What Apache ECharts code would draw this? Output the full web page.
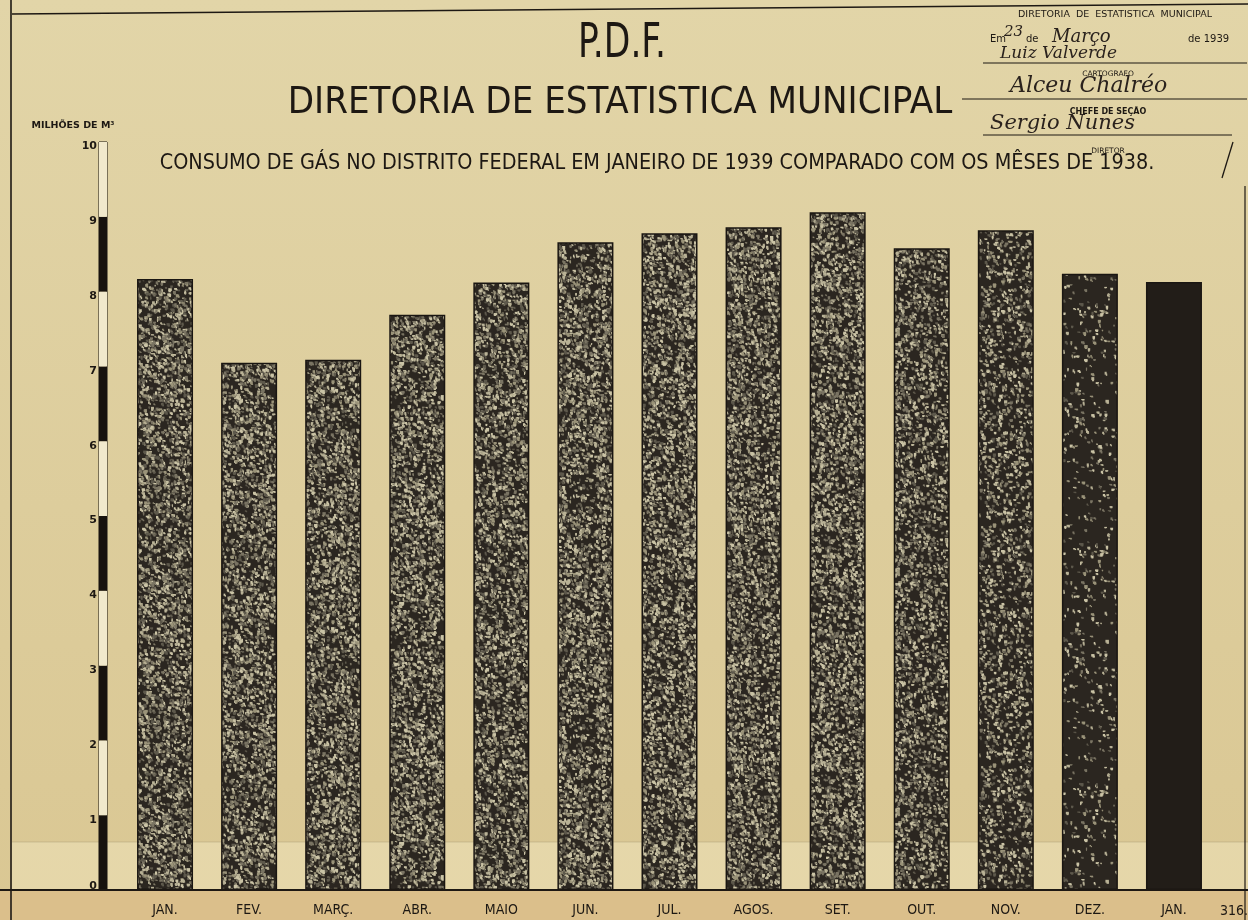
<!DOCTYPE html>
<html>
<head>
<meta charset="utf-8">
<script src="https://cdn.jsdelivr.net/npm/echarts@6/dist/echarts.min.js"></script>
<style>
  html, body { margin: 0; padding: 0; background: #ddcd9d; }
  #chart { width: 1248px; height: 920px; }
</style>
</head>
<body>
<div id="chart"></div>
<script>
// Gas consumption, Distrito Federal: January 1939 against each month of 1938 (millions of m³)
const months = ['JAN.', 'FEV.', 'MARÇ.', 'ABR.', 'MAIO', 'JUN.', 'JUL.', 'AGOS.', 'SET.', 'OUT.', 'NOV.', 'DEZ.', 'JAN.'];
const consumo = [8.17, 7.05, 7.09, 7.69, 8.12, 8.66, 8.78, 8.86, 9.06, 8.58, 8.82, 8.24, 8.13];

// Scale of the left rule (0 to 10, one step per million m³)
const scaleMin = 0;
const scaleMax = 10;
const scaleStep = 1;

// Stipple density of each bar's shading (drawing style only)
const stipple = [0.56, 0.56, 0.56, 0.56, 0.56, 0.56, 0.56, 0.56, 0.56, 0.44, 0.34, 0.1, 0.0];

const LETTER = '"DejaVu Sans Condensed", "DejaVu Sans", sans-serif';
const SMALL = '"DejaVu Sans", sans-serif';
const HAND = '"DejaVu Serif", "Liberation Serif", serif';
const INK = '#1d1813';

// Stippled fill, built once per bar on a seamless canvas tile
function stippleCanvas(density, seed) {
  const size = 240;
  const c = document.createElement('canvas');
  c.width = size; c.height = size;
  const g = c.getContext('2d');
  g.fillStyle = density > 0 ? '#2b2620' : '#221d18';
  g.fillRect(0, 0, size, size);
  let s = seed >>> 0;
  const rnd = () => (s = (Math.imul(s, 1664525) + 1013904223) >>> 0) / 4294967296;
  const tones = ['#b9b296', '#9a9379', '#7a7463', '#cbc4a6', '#5e594c'];
  const count = Math.round(size * size * density / 5.5);
  for (let i = 0; i < count; i++) {
    const x = rnd() * size, y = rnd() * size;
    g.fillStyle = tones[(rnd() * tones.length) | 0];
    const w = 1.2 + rnd() * 2.4, h = 1 + rnd() * 2;
    const ox = rnd() * 1.5;
    // each fleck is drawn again across the tile edges so the repeat has no seam
    for (const dx of [0, -size]) {
      for (const dy of [0, -size]) {
        g.fillRect(x + dx, y + dy, w, h);
        g.fillRect(x + dx + ox, y + dy + h * 0.6, w * 0.7, h * 0.8);
      }
    }
  }
  return c;
}

const chart = echarts.init(document.getElementById('chart'), null, { renderer: 'canvas' });

const barData = consumo.map((v, i) => ({
  value: v,
  itemStyle: { color: { image: stippleCanvas(stipple[i], 9173 + i * 7919), repeat: 'repeat' } }
}));

function txt(text, x, y, size, opts) {
  return {
    type: 'text', x: x, y: y, z: 20,
    style: Object.assign({
      text: text, fontSize: size, fontFamily: LETTER, fill: INK,
      align: 'center', verticalAlign: 'middle'
    }, opts || {})
  };
}
function hand(text, x, y, size, opts) {
  return txt(text, x, y, size, Object.assign({ fontFamily: HAND, fontStyle: 'italic', fill: '#2a221d', align: 'left' }, opts || {}));
}
function rule(x1, y1, x2, y2, w) {
  return { type: 'line', z: 20, shape: { x1: x1, y1: y1, x2: x2, y2: y2 }, style: { stroke: INK, lineWidth: w || 1.2 } };
}

const option = {
  backgroundColor: {
    type: 'linear', x: 0, y: 0, x2: 0, y2: 1,
    colorStops: [
      { offset: 0, color: '#e2d5a8' },
      { offset: 0.55, color: '#ddcd9c' },
      { offset: 1, color: '#dac793' }
    ]
  },
  animation: false,
  grid: [
    { left: 123, right: 32, top: 142, bottom: 30 },
    { left: 99, width: 8, top: 142, bottom: 30, show: true, borderColor: '#15110d', borderWidth: 1, backgroundColor: 'transparent' }
  ],
  xAxis: [
    {
      type: 'category', gridIndex: 0, data: months,
      axisLine: { show: false }, axisTick: { show: false },
      axisLabel: { color: INK, fontSize: 14, fontFamily: LETTER, margin: 13 }
    },
    { type: 'value', gridIndex: 1, show: false, min: 0, max: 1 }
  ],
  yAxis: [
    { type: 'value', gridIndex: 0, min: scaleMin, max: scaleMax, interval: scaleStep, show: false },
    {
      type: 'value', gridIndex: 1, min: scaleMin, max: scaleMax, interval: scaleStep,
      axisLine: { show: false }, axisTick: { show: false }, splitLine: { show: false },
      splitArea: { show: true, areaStyle: { color: ['#17120e', '#f1e9cc'] } },
      axisLabel: {
        color: INK, fontSize: 11, fontWeight: 'bold', fontFamily: SMALL, margin: 2,
        formatter: (v) => (v === 0 ? '{z|0}' : '{n|' + v + '}'),
        rich: {
          n: { fontSize: 11, fontWeight: 'bold', fontFamily: SMALL, color: INK, padding: [9, 0, 0, 0] },
          z: { fontSize: 11, fontWeight: 'bold', fontFamily: SMALL, color: INK, padding: [0, 0, 7, 0] }
        }
      }
    }
  ],
  series: [
    {
      type: 'bar', xAxisIndex: 0, yAxisIndex: 0, data: barData,
      barWidth: 56,
      itemStyle: { borderColor: '#1a1612', borderWidth: 1.5 }
    }
  ]
};
chart.setOption(option);

// Baseline pixel row, taken from the value axis, for the ruled frame
const base = chart.convertToPixel({ xAxisIndex: 0, yAxisIndex: 0 }, [0, 0])[1];

chart.setOption({
  graphic: [
    // lighter paper strip along the foot and the tinted margin under the baseline
    { type: 'rect', z: -5, shape: { x: 12, y: base - 48, width: 1236, height: 48 }, style: { fill: 'rgba(246,238,204,0.38)' } },
    { type: 'line', z: -5, shape: { x1: 12, y1: base - 48, x2: 1248, y2: base - 48 }, style: { stroke: 'rgba(150,138,105,0.35)', lineWidth: 1 } },
    { type: 'rect', z: -5, shape: { x: 0, y: base, width: 1248, height: 920 - base }, style: { fill: '#dbbf8b' } },

    // frame
    rule(0, base, 1248, base, 2),
    rule(11, 0, 11, 920, 1.6),
    rule(12, 14, 1248, 4, 1.5),
    rule(1245, 186, 1245, 920, 1.2),

    // headings
    Object.assign(txt('P.D.F.', 622, 45, 48), { scaleX: 0.8 }),
    txt('DIRETORIA DE ESTATISTICA MUNICIPAL', 620, 103, 38),
    txt('CONSUMO DE GÁS NO DISTRITO FEDERAL EM JANEIRO DE 1939 COMPARADO COM OS MÊSES DE 1938.', 657, 163, 21.4),
    txt('MILHÕES DE M³', 73, 126, 9.5, { fontWeight: 'bold', fontFamily: SMALL }),
    txt('316.', 1234, 911, 14),

    // certification stamp
    txt('DIRETORIA  DE  ESTATISTICA  MUNICIPAL', 1115, 15, 9.5, { fontFamily: SMALL }),
    txt('Em', 990, 39, 10, { align: 'left', fontFamily: SMALL }),
    hand('23', 1004, 32, 15),
    txt('de', 1026, 39, 10, { align: 'left', fontFamily: SMALL }),
    hand('Março', 1052, 37, 18),
    txt('de 1939', 1188, 39, 10, { align: 'left', fontFamily: SMALL }),
    hand('Luiz Valverde', 1000, 54, 17),
    rule(983, 63, 1247, 63, 1),
    txt('CARTOGRAFO', 1108, 74, 7.5, { fontFamily: SMALL }),
    hand('Alceu Chalréo', 1010, 86, 22),
    rule(962, 99, 1247, 99, 1),
    txt('CHEFE DE SEÇÃO', 1108, 112, 8, { fontFamily: SMALL, fontWeight: 'bold' }),
    hand('Sergio Nunes', 990, 124, 21),
    rule(983, 135, 1232, 135, 1),
    txt('DIRETOR', 1108, 151, 7.5, { fontFamily: SMALL }),
    rule(1233, 142, 1222, 178, 1.3)
  ]
});
</script>
</body>
</html>
